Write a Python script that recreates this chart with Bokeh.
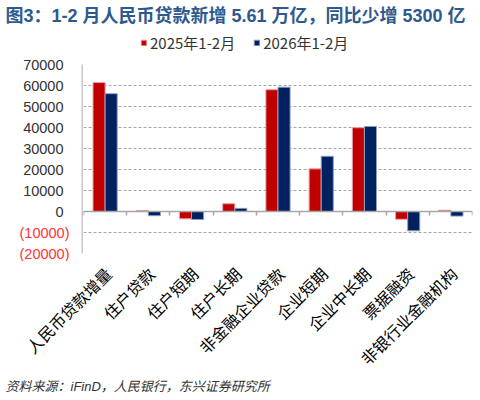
import math
from bokeh.plotting import figure
from bokeh.models import (ColumnDataSource, Range1d, LinearAxis, Legend, LegendItem,
                          Label, FixedTicker)
from bokeh.layouts import column, row
from bokeh.transform import dodge
from bokeh.embed import file_html
from bokeh.resources import INLINE

categories = ["人民币贷款增量", "住户贷款", "住户短期", "住户长期", "非金融企业贷款",
              "企业短期", "企业中长期", "票据融资", "非银行业金融机构"]
y2025 = [61400, 500, -3500, 3700, 58000, 20300, 39900, -3700, 600]
y2026 = [56100, -2000, -3800, 1500, 59200, 26300, 40500, -9200, -2200]
series_names = ["2025年1-2月", "2026年1-2月"]
pos_ticks = [0, 10000, 20000, 30000, 40000, 50000, 60000, 70000]
neg_ticks = [-10000, -20000]
neg_tick_labels = ["(10000)", "(20000)"]
title_text = "图3：1-2 月人民币贷款新增 5.61 万亿，同比少增 5300 亿"
source_text = "资料来源：iFinD，人民银行，东兴证券研究所"

RED = "#c00000"
NAVY = "#002060"
CJK = "'Liberation Sans', 'Noto Sans CJK SC', sans-serif"
W = 480
LW = 83                       # width of the y-label strip
FW = W - LW - 8               # frame width of the main chart
TOP, FRAME_H, PB = 8, 189, 8  # main chart borders / frame height
HH, XH = 56, 117              # header and x-label strip heights
MH = TOP + FRAME_H + PB
FH = 400 - HH - MH - XH       # footer height


def bare(fig):
    fig.outline_line_color = None
    fig.xgrid.visible = False
    fig.ygrid.visible = False
    return fig


def strip(width, height, xr, yr):
    return bare(figure(width=width, height=height, x_range=xr, y_range=yr,
                       x_axis_type=None, y_axis_type=None,
                       min_border_left=0, min_border_right=0, min_border_top=0, min_border_bottom=0,
                       output_backend="svg", toolbar_location=None))


# ---------- header: title + legend ----------
head = strip(W, HH, Range1d(0, W), Range1d(0, HH))
head.add_layout(Label(x=5, y=HH - 15, text=title_text, text_align="left", text_baseline="middle",
                      text_font=CJK, text_font_size="18px", text_font_style="bold",
                      text_color="#2d5a8e"))
pr1 = head.vbar(x=[0], top=[0], width=0, fill_color=RED, line_color="#e8a0a0")
pr2 = head.vbar(x=[0], top=[0], width=0, fill_color=NAVY, line_color="#8da0c0")
legend = Legend(items=[LegendItem(label=series_names[0], renderers=[pr1]),
                       LegendItem(label=series_names[1], renderers=[pr2])],
                orientation="horizontal", location=(140, 3),
                glyph_width=7, glyph_height=7, label_standoff=3, spacing=18,
                label_text_font="Noto Sans CJK SC", label_text_font_size="15px",
                label_text_color="#333333", label_height=16,
                padding=0, margin=0, border_line_color=None, background_fill_alpha=0)
head.add_layout(legend, "center")

# ---------- main chart ----------
idx = list(range(len(categories)))
src = ColumnDataSource(dict(x=idx, a=y2025, b=y2026))
y_lo, y_hi = neg_ticks[-1], pos_ticks[-1]

p = figure(x_range=Range1d(-0.5, len(categories) - 0.5), y_range=Range1d(y_lo, y_hi),
           frame_width=FW, frame_height=FRAME_H,
           min_border_left=0, min_border_right=8, min_border_top=TOP, min_border_bottom=PB,
           x_axis_location=None, y_axis_location=None,
           output_backend="svg", toolbar_location=None)
p.outline_line_color = None

p.vbar(x=dodge("x", -0.14), top="a", width=0.28, source=src,
       fill_color=RED, line_color="#e8a0a0", line_width=1)
p.vbar(x=dodge("x", 0.14), top="b", width=0.28, source=src,
       fill_color=NAVY, line_color="#8da0c0", line_width=1)

p.xgrid.grid_line_color = None
p.ygrid.ticker = FixedTicker(ticks=neg_ticks + pos_ticks)
p.ygrid.grid_line_color = "#a6a6a6"
p.ygrid.grid_line_dash = "3 2"

# zero line with category-boundary ticks
bticks = [i - 0.5 for i in idx] + [idx[-1] + 0.5]
zax = LinearAxis(fixed_location=0, ticker=FixedTicker(ticks=bticks),
                 major_label_overrides={b: "" for b in bticks},
                 axis_line_color="#a6a6a6", axis_line_width=1.5,
                 major_tick_line_color="#a6a6a6", major_tick_line_width=1.5,
                 major_tick_out=4, major_tick_in=0, minor_tick_line_color=None)
p.add_layout(zax, "below")

# ---------- y tick-label strip (same value scale as the chart) ----------
upp = (y_hi - y_lo) / FRAME_H
lfig = strip(LW, MH, Range1d(0, LW), Range1d(y_lo - PB * upp, y_hi + TOP * upp))
lfig.segment(x0=[LW - 1], x1=[LW - 1], y0=[y_lo], y1=[y_hi], line_color="#c8c8c8", line_width=2)
for t in pos_ticks:
    lfig.add_layout(Label(x=63, y=t, text=str(t), text_align="right", text_baseline="middle",
                          text_font="Liberation Sans", text_font_size="14.5px",
                          text_color="#333333"))
for t, txt in zip(neg_ticks, neg_tick_labels):
    lfig.add_layout(Label(x=69, y=t, text=txt, text_align="right", text_baseline="middle",
                          text_font="Liberation Sans", text_font_size="14.5px",
                          text_color="#ff3333"))

# ---------- x category-label strip (same category scale as the chart) ----------
cw = FW / len(categories)
x0 = -0.5 - LW / cw
xfig = strip(W, XH, Range1d(x0, x0 + W / cw), Range1d(0, XH))
for i, c in zip(idx, categories):
    xfig.add_layout(Label(x=i, y=XH - 9, text=c, angle=math.pi / 4,
                          text_align="right", text_baseline="middle", x_offset=3,
                          text_font="Noto Sans CJK SC", text_font_size="16px",
                          text_color="#000000"))

# ---------- footer: source ----------
foot = strip(W, FH, Range1d(0, W), Range1d(0, FH))
foot.add_layout(Label(x=5, y=FH - 8, text=source_text, text_align="left", text_baseline="middle",
                      text_font=CJK, text_font_size="13px", text_font_style="italic",
                      text_color="#333333"))

for f in (head, lfig, p, xfig, foot):
    if "frame_align" in f.properties():
        f.frame_align = False

layout = column(head, row(lfig, p, spacing=0), xfig, foot, spacing=0)
open("out.html", "w").write(file_html(layout, INLINE))
